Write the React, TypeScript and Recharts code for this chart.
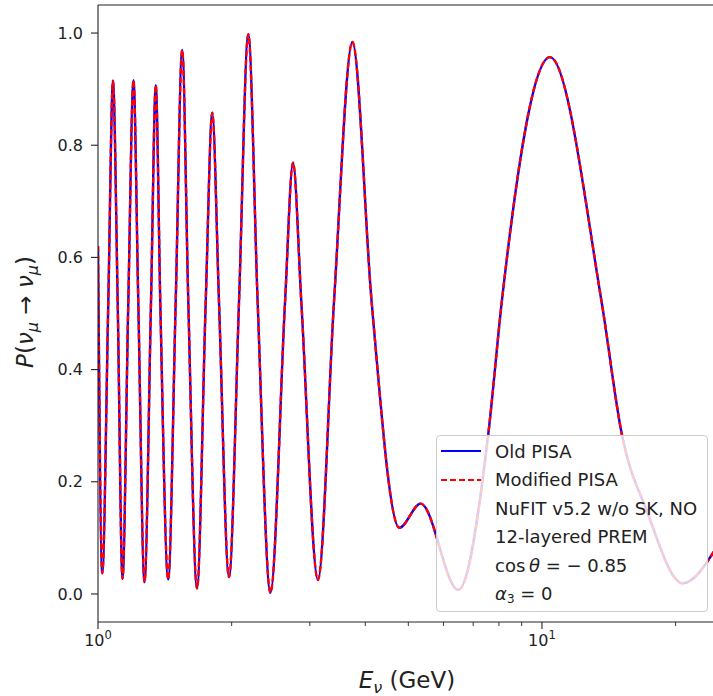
import React from "react"
import { LineChart, Line, XAxis, YAxis, ReferenceLine, Legend } from "recharts"

// neutrino energy in GeV (log axis)
const energies = [
  1.0, 1.0225, 1.0548, 1.0809, 1.1075, 1.1355, 1.1701, 1.2021, 1.2324, 1.2727,
  1.3163, 1.3495, 1.3813, 1.4392, 1.4962, 1.5475, 1.5974, 1.6711, 1.7482, 1.809,
  1.8731, 1.9727, 2.0777, 2.1803, 2.2888, 2.446, 2.6379, 2.7497, 2.8707, 3.1291,
  3.4003, 3.7417, 4.1345, 4.7722, 5.331, 6.4775, 7.572, 8.1158, 10.424, 13.629,
  15.12, 17.21, 20.748, 24.6,
]

// survival probability
const oldPisa = [
  0.62, 0.037, 0.52, 0.915, 0.52, 0.027, 0.52, 0.916, 0.52, 0.021,
  0.52, 0.907, 0.52, 0.026, 0.52, 0.97, 0.52, 0.01, 0.52, 0.858,
  0.52, 0.03, 0.52, 0.998, 0.52, 0.002, 0.52, 0.769, 0.52, 0.025,
  0.52, 0.984, 0.52, 0.118, 0.161, 0.007, 0.286, 0.52, 0.957, 0.52,
  0.286, 0.149, 0.019, 0.08,
]
const modifiedPisa = [
  0.62, 0.037, 0.52, 0.915, 0.52, 0.027, 0.52, 0.916, 0.52, 0.021,
  0.52, 0.907, 0.52, 0.026, 0.52, 0.97, 0.52, 0.01, 0.52, 0.858,
  0.52, 0.03, 0.52, 0.998, 0.52, 0.002, 0.52, 0.769, 0.52, 0.025,
  0.52, 0.984, 0.52, 0.118, 0.161, 0.007, 0.286, 0.52, 0.957, 0.52,
  0.286, 0.149, 0.019, 0.08,
]

const yTicks = [0, 0.2, 0.4, 0.6, 0.8, 1.0]
const xTicks = [1, 2, 3, 4, 5, 6, 7, 8, 9, 10, 20]
const xMajorExp: Record<number, string> = { 1: "0", 10: "1" }

const data = energies.map((e, i) => ({ e, old: oldPisa[i], mod: modifiedPisa[i] }))

const FONT = "'DejaVu Sans', sans-serif"
const INK = "#222"

function XTick({ x, y, payload }: any) {
  const exp = xMajorExp[payload.value]
  const major = exp !== undefined
  return (
    <g>
      <line x1={x} x2={x} y1={y} y2={y + (major ? 7 : 4)} stroke={INK} strokeWidth={major ? 1.1 : 0.9} />
      {major && (
        <text x={x} y={y + 24} textAnchor="middle" fontSize={16} fill={INK} fontFamily={FONT}>
          10
          <tspan dy={-7} fontSize={11.5}>{exp}</tspan>
        </text>
      )}
    </g>
  )
}

function YLabel() {
  return (
    <text
      transform="translate(33,312) rotate(-90)"
      textAnchor="middle"
      fontSize={23}
      fill={INK}
      fontFamily={FONT}
    >
      <tspan fontStyle="italic">P</tspan>(<tspan fontStyle="italic">ν</tspan>
      <tspan fontStyle="italic" fontSize={16} dy={5}>μ</tspan>
      <tspan dy={-5}> → </tspan>
      <tspan fontStyle="italic">ν</tspan>
      <tspan fontStyle="italic" fontSize={16} dy={5}>μ</tspan>
      <tspan dy={-5}>)</tspan>
    </text>
  )
}

function XLabel() {
  return (
    <text x={407} y={688} textAnchor="middle" fontSize={23} fill={INK} fontFamily={FONT}>
      <tspan fontStyle="italic">E</tspan>
      <tspan fontStyle="italic" fontSize={16} dy={5}>ν</tspan>
      <tspan dy={-5}> (GeV)</tspan>
    </text>
  )
}

const legendSeries = [
  { name: "Old PISA", color: "#0000ff", dash: undefined },
  { name: "Modified PISA", color: "#ff0000", dash: "6 3" },
]

function LegendBox() {
  const row: React.CSSProperties = { height: 28.5, display: "flex", alignItems: "center", whiteSpace: "nowrap" }
  return (
    <div
      style={{
        width: 272,
        height: 177,
        boxSizing: "border-box",
        border: "1px solid #cccccc",
        borderRadius: 4,
        background: "rgba(255,255,255,0.8)",
        padding: "1px 0 0 4px",
        fontFamily: FONT,
        fontSize: 18,
        color: INK,
      }}
    >
      {legendSeries.map((s) => (
        <div key={s.name} style={row}>
          <svg width={40} height={6} style={{ marginRight: 14 }}>
            <line x1={0} x2={40} y1={3} y2={3} stroke={s.color} strokeWidth={2} strokeDasharray={s.dash} />
          </svg>
          {s.name}
        </div>
      ))}
      <div style={{ ...row, paddingLeft: 54 }}>NuFIT v5.2 w/o SK, NO</div>
      <div style={{ ...row, paddingLeft: 54 }}>12-layered PREM</div>
      <div style={{ ...row, paddingLeft: 54 }}>
        cos&thinsp;<i>θ</i>&nbsp;=&nbsp;−&nbsp;0.85
      </div>
      <div style={{ ...row, paddingLeft: 54 }}>
        <i>α</i>
        <span style={{ fontSize: 12, position: "relative", top: 5 }}>3</span>&nbsp;=&nbsp;0
      </div>
    </div>
  )
}

export default function App() {
  return (
    <div style={{ position: "fixed", left: 0, top: 0, width: 713, height: 696, overflow: "hidden", background: "#fff" }}>
      <LineChart
        width={730}
        height={696}
        data={data}
        margin={{ top: 5, right: 14, bottom: 44, left: 38 }}
        style={{ fontFamily: FONT }}
      >
        <XAxis
          dataKey="e"
          type="number"
          scale="log"
          domain={[1, 24.66]}
          allowDataOverflow
          ticks={xTicks}
          interval={0}
          height={30}
          tickSize={0}
          tickMargin={0}
          tickLine={false}
          tick={<XTick />}
          axisLine={{ stroke: INK, strokeWidth: 1.1 }}
        />
        <YAxis
          type="number"
          domain={[-0.05, 1.05]}
          allowDataOverflow
          ticks={yTicks}
          width={60}
          tickSize={7}
          tickMargin={8}
          tickFormatter={(v: number) => v.toFixed(1)}
          tick={{ fontSize: 16, fill: INK, fontFamily: FONT }}
          tickLine={{ stroke: INK, strokeWidth: 1.1 }}
          axisLine={{ stroke: INK, strokeWidth: 1.1 }}
        />
        <ReferenceLine y={1.05} stroke={INK} strokeWidth={1.1} ifOverflow="visible" />
        <Line
          dataKey="old"
          type="monotone"
          stroke="#0000ff"
          strokeWidth={2.4}
          dot={false}
          isAnimationActive={false}
        />
        <Line
          dataKey="mod"
          type="monotone"
          stroke="#ff0000"
          strokeWidth={2.4}
          strokeDasharray="6 3"
          dot={false}
          isAnimationActive={false}
        />
        <Legend
          layout="vertical"
          align="center"
          verticalAlign="middle"
          content={() => <LegendBox />}
          wrapperStyle={{ left: 436, top: 435, width: 272 }}
        />
        <YLabel />
        <XLabel />
      </LineChart>
    </div>
  )
}
